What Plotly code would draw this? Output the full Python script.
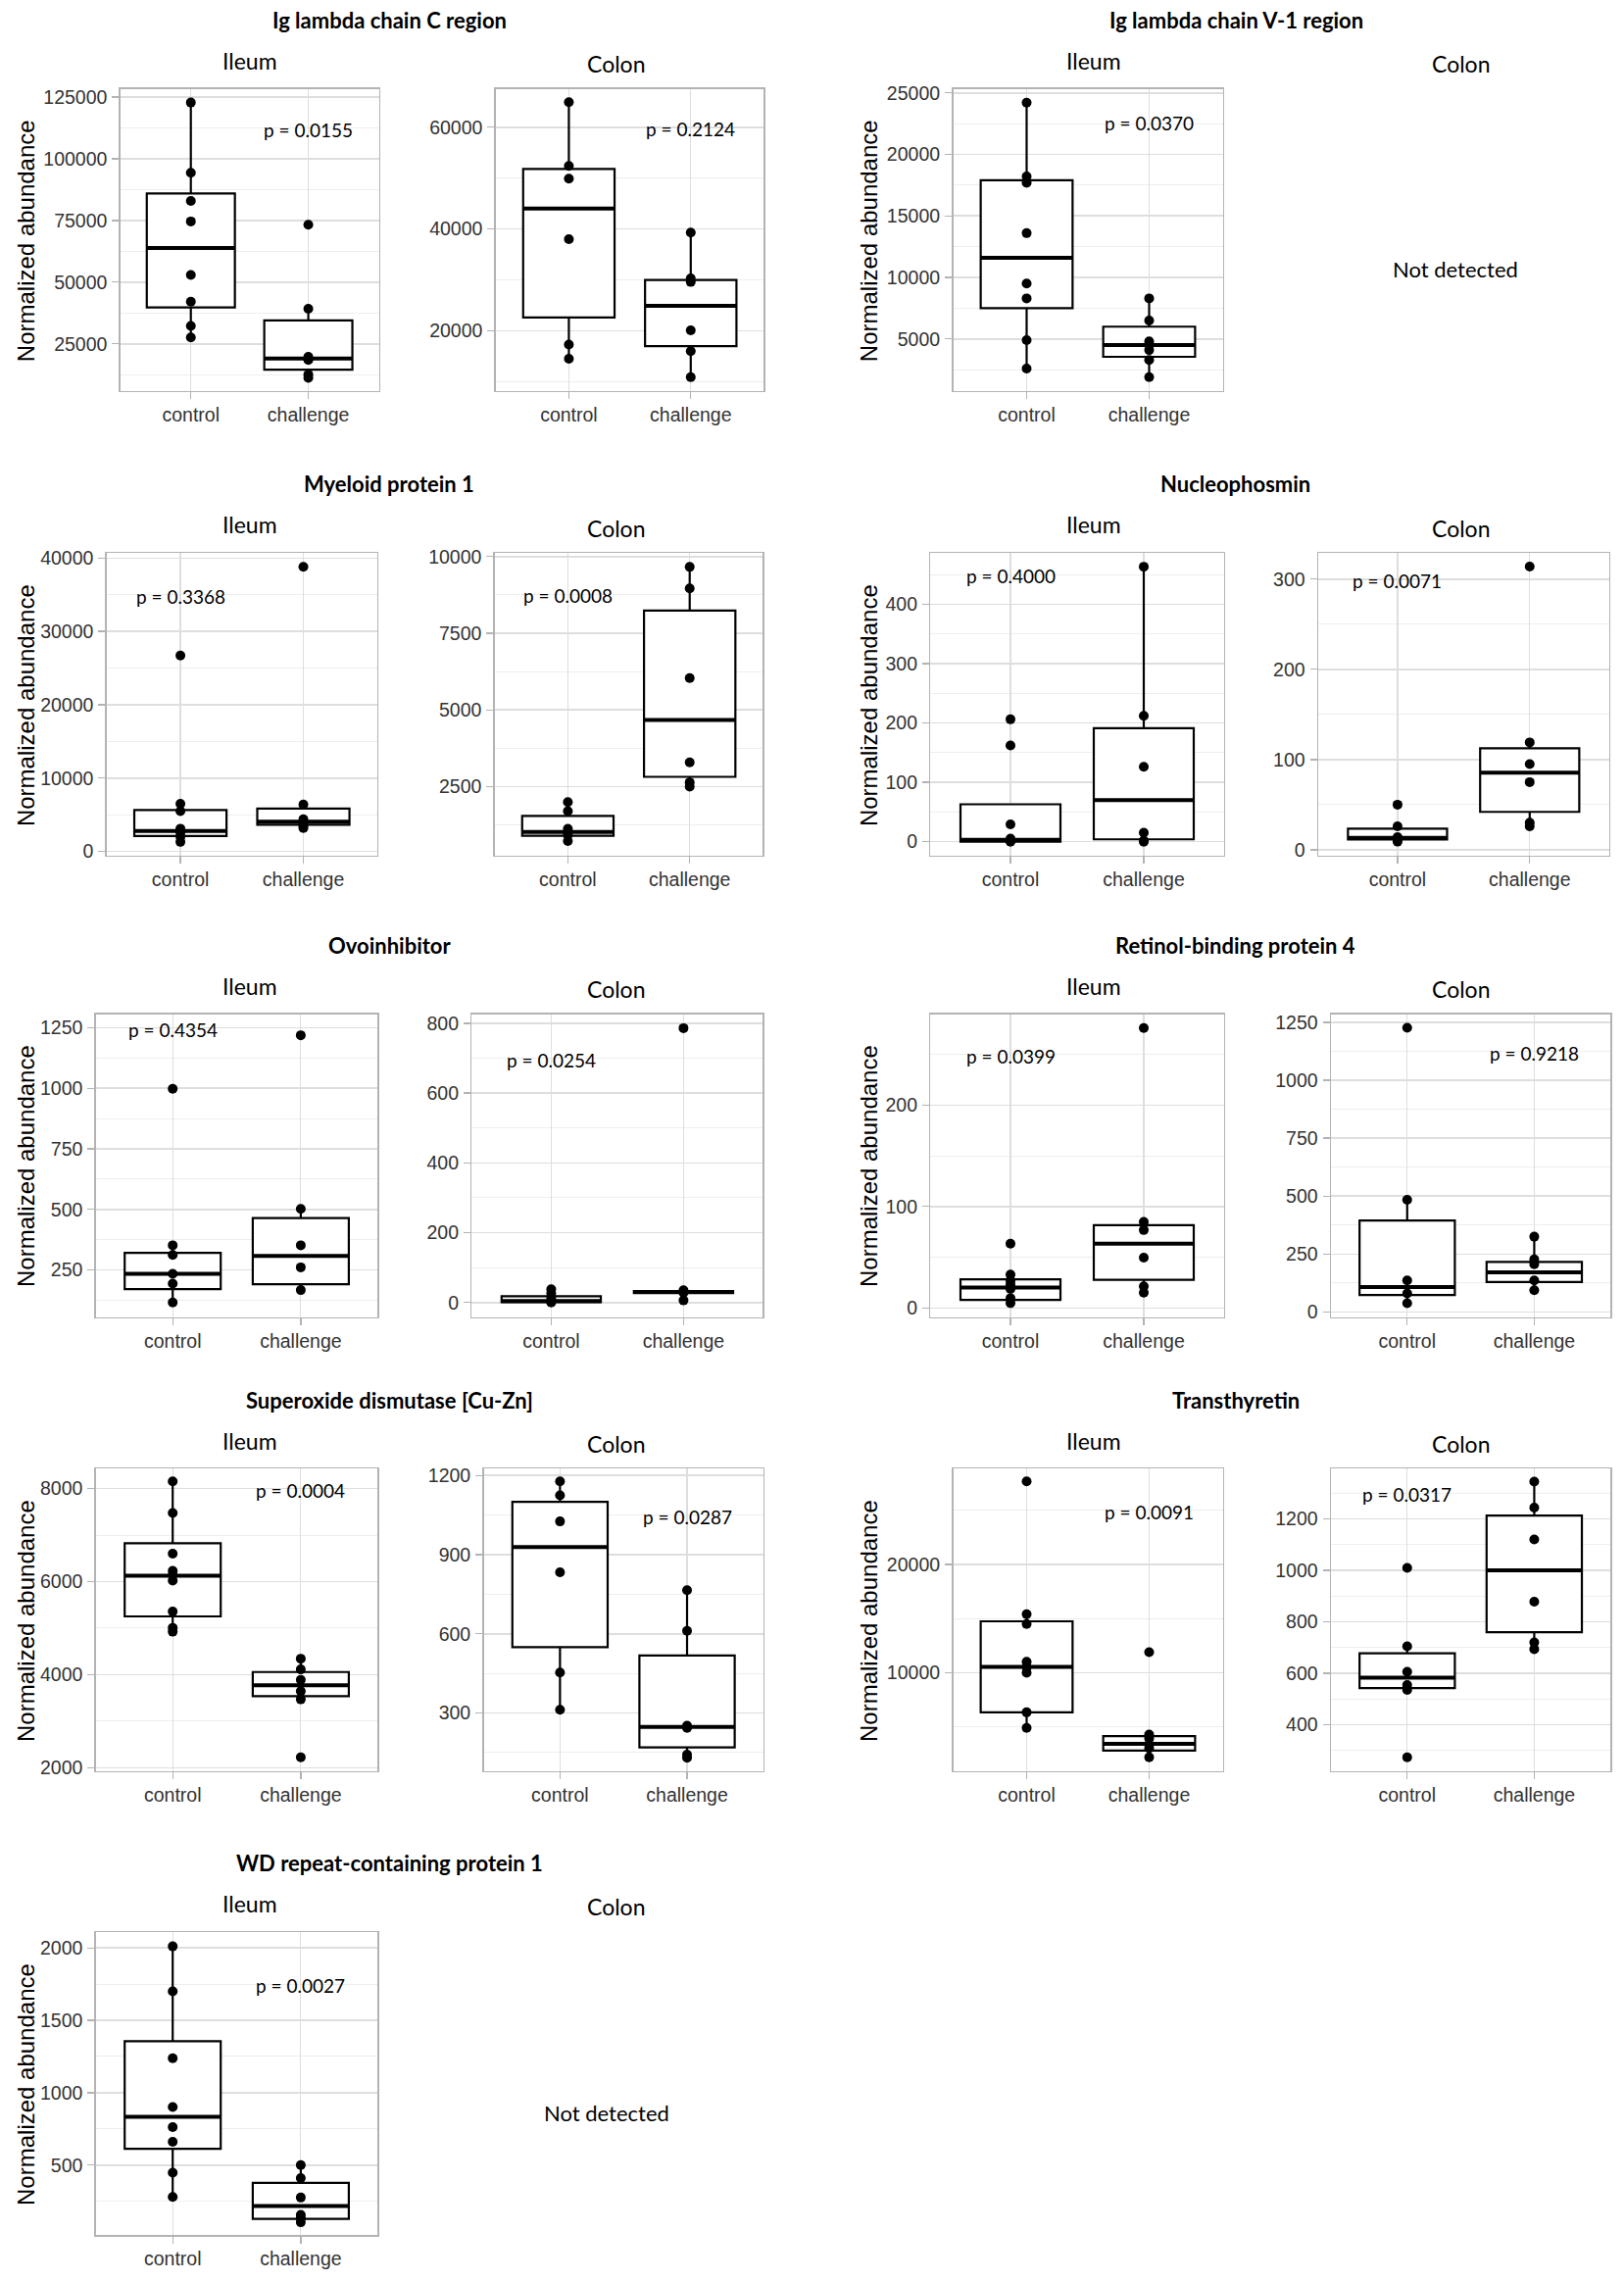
import plotly.graph_objects as go

W, H = 1657, 2327
CATEGORIES = ["control", "challenge"]

# ---------------- data ----------------
# box stats: [lower whisker, q1, median, q3, upper whisker]
igc_ileum_control = [122800, 94300, 82900, 74600, 52900, 42100, 32200, 27600]
igc_ileum_challenge = [73300, 39200, 19700, 18400, 12500, 11200]
igc_ileum_control_box = [27600, 39700, 63800, 85900, 122800]
igc_ileum_challenge_box = [11200, 14500, 19000, 34500, 39200]

igc_colon_control = [64900, 52400, 49900, 38000, 17300, 14500]
igc_colon_challenge = [39300, 30300, 29600, 20100, 16000, 10900]
igc_colon_control_box = [14500, 22600, 44000, 51800, 64900]
igc_colon_challenge_box = [10900, 17000, 24900, 30000, 39300]

igv_ileum_control = [24200, 18200, 17700, 13600, 9500, 8300, 4900, 2600]
igv_ileum_challenge = [8300, 6500, 4800, 4500, 4100, 3300, 1900]
igv_ileum_control_box = [2600, 7500, 11600, 17900, 24200]
igv_ileum_challenge_box = [1900, 3550, 4500, 6000, 8300]

myl_ileum_control = [26700, 6500, 5500, 3100, 2600, 2000, 1300]
myl_ileum_challenge = [38800, 6400, 4400, 4000, 3500, 3200]
myl_ileum_control_box = [1300, 2100, 2800, 5650, 6500]
myl_ileum_challenge_box = [3200, 3650, 4050, 5850, 6400]

myl_colon_control = [2000, 1700, 1130, 1020, 920, 730]
myl_colon_challenge = [9660, 8960, 6040, 3290, 2640, 2500]
myl_colon_control_box = [730, 900, 1020, 1550, 2000]
myl_colon_challenge_box = [2500, 2820, 4670, 8240, 9660]

npm_ileum_control = [206, 162, 29, 5, 1, 0]
npm_ileum_challenge = [463, 212, 126, 15, 2, 0]
npm_ileum_control_box = [0, 0, 3, 63, 63]
npm_ileum_challenge_box = [0, 4, 70, 191, 463]

npm_colon_control = [50, 26, 14, 11, 9]
npm_colon_challenge = [314, 119, 95, 75, 30, 26]
npm_colon_control_box = [9, 11.5, 13.3, 23.3, 26]
npm_colon_challenge_box = [26, 42, 85.5, 112.4, 119]

ovo_ileum_control = [998, 352, 312, 234, 194, 116]
ovo_ileum_challenge = [1219, 502, 352, 261, 167]
ovo_ileum_control_box = [116, 171, 234, 321, 352]
ovo_ileum_challenge_box = [167, 191, 308, 464, 502]

ovo_colon_control = [38, 26, 12, 2, 0]
ovo_colon_challenge = [786, 35, 31, 28, 6]
ovo_colon_control_box = [0, 1, 4, 18, 38]
ovo_colon_challenge_box = [27, 27, 30, 33, 35]

rbp_ileum_control = [63.4, 33, 27, 23, 18.6, 9.6, 4.8]
rbp_ileum_challenge = [276, 84.8, 76.8, 49.6, 21.4, 15]
rbp_ileum_control_box = [4.8, 8, 20.2, 28.2, 33]
rbp_ileum_challenge_box = [15, 27.8, 63.4, 81.6, 84.8]

rbp_colon_control = [1226, 484, 136, 80, 38]
rbp_colon_challenge = [325, 227, 206, 136, 94]
rbp_colon_control_box = [38, 73, 108, 395, 484]
rbp_colon_challenge_box = [94, 129, 171, 216, 325]

sod_ileum_control = [8154, 7476, 6601, 6231, 6140, 6021, 5357, 5007, 4923]
sod_ileum_challenge = [4343, 4112, 3888, 3643, 3469, 2224]
sod_ileum_control_box = [4923, 5252, 6126, 6825, 8154]
sod_ileum_challenge_box = [3469, 3538, 3769, 4056, 4343]

sod_colon_control = [1178, 1125, 1026, 833, 453, 312]
sod_colon_challenge = [765, 611, 251, 243, 142, 130]
sod_colon_control_box = [312, 549, 929, 1100, 1178]
sod_colon_challenge_box = [130, 169, 247, 518, 765]

ttr_ileum_control = [27660, 15400, 14500, 11000, 10500, 10000, 6340, 4900]
ttr_ileum_challenge = [11890, 4290, 3930, 3390, 3030, 2190]
ttr_ileum_control_box = [4900, 6340, 10540, 14745, 15400]
ttr_ileum_challenge_box = [2190, 2810, 3420, 4140, 4290]

ttr_colon_control = [1010, 705, 606, 555, 536, 274]
ttr_colon_challenge = [1345, 1244, 1120, 878, 720, 694]
ttr_colon_control_box = [536, 543, 583, 678, 705]
ttr_colon_challenge_box = [694, 760, 1000, 1213, 1345]

wdr_ileum_control = [2011, 1700, 1238, 901, 762, 661, 448, 280]
wdr_ileum_challenge = [500, 410, 276, 157, 134, 105]
wdr_ileum_control_box = [280, 612, 834, 1356, 2011]
wdr_ileum_challenge_box = [105, 128, 217, 377, 500]

PANEL_KEYS = ["igc_ileum", "igc_colon", "igv_ileum", "myl_ileum", "myl_colon",
              "npm_ileum", "npm_colon", "ovo_ileum", "ovo_colon", "rbp_ileum",
              "rbp_colon", "sod_ileum", "sod_colon", "ttr_ileum", "ttr_colon",
              "wdr_ileum"]
P_VALUES = [0.0155, 0.2124, 0.0370, 0.3368, 0.0008, 0.4000, 0.0071, 0.4354,
            0.0254, 0.0399, 0.9218, 0.0004, 0.0287, 0.0091, 0.0317, 0.0027]
# p-label anchor: (category index, value)
P_POS_X = [2, 2, 2, 1, 1, 1, 1, 1, 1, 1, 2, 2, 2, 2, 1, 2]
P_POS_Y = [111800, 59700, 22550, 34800, 8730, 447, 298, 1242, 693, 248.6,
           1117, 7958, 1042, 24865, 1295, 1738]

PROTEINS = ["Ig lambda chain C region", "Ig lambda chain V-1 region",
            "Myeloid protein 1", "Nucleophosmin", "Ovoinhibitor",
            "Retinol-binding protein 4", "Superoxide dismutase [Cu-Zn]",
            "Transthyretin", "WD repeat-containing protein 1"]

g = globals()
PANEL_DATA = {k: ((g[k + "_control"], g[k + "_control_box"]),
                  (g[k + "_challenge"], g[k + "_challenge_box"])) for k in PANEL_KEYS}

# ---------------- layout (pixel boxes L, R, T, B ; y range ; tick step) ----------------
PANEL_BOXES = [
    (122.8, 386.5, 83.3, 393.3), (505.8, 779.4, 83.3, 393.3), (972.5, 1247.5, 83.3, 393.3),
    (108.8, 384.8, 560, 870.5), (504.8, 778.3, 560, 870.5), (949.4, 1248.6, 560, 870.5), (1345, 1641.7, 560, 870.5),
    (97.8, 385.3, 1033.3, 1344.3), (481.4, 778.4, 1033.3, 1344.3), (949.4, 1248.6, 1033.3, 1344.3), (1358, 1643.2, 1033.3, 1344.3),
    (97.8, 385.3, 1499.7, 1810.3), (493.6, 778.8, 1499.7, 1810.3), (972.5, 1247.5, 1499.7, 1810.3), (1358, 1643.2, 1499.7, 1810.3),
    (97.8, 385.3, 1976, 2287),
]
Y_RANGES = [(5900, 128300), (8200, 67500), (780, 25320), (-575, 40660), (253, 10106),
            (-23.5, 485.7), (-6.5, 328.7), (55.6, 1306), (-41.8, 826), (-9, 289.6),
            (-22, 1285), (1930, 8434), (80, 1227), (931, 28859), (221, 1396), (16, 2108)]
Y_DTICK = [25000, 20000, 5000, 10000, 2500, 100, 100, 250, 200, 100, 250, 2000, 300, 10000, 200, 500]

TITLE_POS = [(397, 13), (1261, 13), (397, 489), (1260, 489), (397, 962.5), (1260, 962.5),
             (397, 1429.5), (1261, 1429.5), (397, 1905)]
ROW_LABEL_Y = [(54, 57.3), (530.7, 534), (1004, 1007.3), (1471, 1474.3), (1946.7, 1950)]
LEFT_GROUP_X = (255, 628)
RIGHT_GROUP_X = (1116, 1490.5)
YTITLE_POS = [(26.7, 239), (886.7, 239), (26.7, 716), (886.7, 716), (26.7, 1189), (886.7, 1189),
              (26.7, 1656), (886.7, 1656), (26.7, 2132)]
NOT_DETECTED_POS = [(1484.5, 268.3), (619, 2161)]

CAL = "Lato, Carlito, sans-serif"
ARIAL = "Liberation Sans, Arial, sans-serif"
BOX_W = 0.75
TICK_FONT = dict(family=ARIAL, size=19.5, color="#333333")

fig = go.Figure()
annotations = []

for i, key in enumerate(PANEL_KEYS, start=1):
    sfx = "" if i == 1 else str(i)
    xa, ya = "x" + sfx, "y" + sfx
    for j, (pts, stats) in enumerate(PANEL_DATA[key]):
        xpos = j + 1
        lf, q1, med, q3, uf = stats
        fig.add_trace(go.Box(x=[xpos], lowerfence=[lf], q1=[q1], median=[med], q3=[q3],
                             upperfence=[uf], width=BOX_W, whiskerwidth=0,
                             fillcolor="white", line=dict(color="black", width=2.2),
                             boxpoints=False, xaxis=xa, yaxis=ya, showlegend=False,
                             hoverinfo="skip"))
        fig.add_trace(go.Scatter(x=[xpos - BOX_W / 2, xpos + BOX_W / 2], y=[med, med],
                                 mode="lines", line=dict(color="black", width=4),
                                 xaxis=xa, yaxis=ya, showlegend=False, hoverinfo="skip"))
        fig.add_trace(go.Scatter(x=[xpos] * len(pts), y=pts, mode="markers",
                                 marker=dict(color="black", size=10),
                                 xaxis=xa, yaxis=ya, showlegend=False, hoverinfo="skip"))
    L, R, T, B = PANEL_BOXES[i - 1]
    dt = Y_DTICK[i - 1]
    fig.update_layout(**{
        "xaxis" + sfx: dict(domain=[L / W, R / W], anchor=ya, range=[0.4, 2.6],
                            tickmode="array", tickvals=[1, 2], ticktext=CATEGORIES,
                            showgrid=True, gridcolor="#dedede", gridwidth=1.2,
                            zeroline=False, showline=True, mirror=True,
                            linecolor="#b3b3b3", linewidth=1.5, ticks="outside",
                            ticklen=7, tickwidth=1.3, tickcolor="#b3b3b3",
                            ticklabelstandoff=-1, tickfont=TICK_FONT),
        "yaxis" + sfx: dict(domain=[1 - B / H, 1 - T / H], anchor=xa,
                            range=list(Y_RANGES[i - 1]), tickmode="linear", tick0=0, dtick=dt,
                            tickformat="d", showgrid=True, gridcolor="#dedede", gridwidth=1.6,
                            minor=dict(tick0=0, dtick=dt / 2, showgrid=True,
                                       gridcolor="#eeeeee", gridwidth=1),
                            zeroline=False, showline=True, mirror=True,
                            linecolor="#b3b3b3", linewidth=1.5, ticks="outside",
                            ticklen=7, tickwidth=1.3, tickcolor="#b3b3b3",
                            ticklabelstandoff=1, tickfont=TICK_FONT),
    })
    annotations.append(dict(x=P_POS_X[i - 1], y=P_POS_Y[i - 1], xref=xa, yref=ya,
                            text="p = %.4f" % P_VALUES[i - 1], showarrow=False,
                            font=dict(family=CAL, size=19, color="black"),
                            xanchor="center", yanchor="middle"))


def pap(px, py):
    return px / W, 1 - py / H


for name, (tx, ty) in zip(PROTEINS, TITLE_POS):
    x, y = pap(tx, ty)
    annotations.append(dict(x=x, y=y, xref="paper", yref="paper", text="<b>%s</b>" % name,
                            showarrow=False, font=dict(family=CAL, size=22, color="black"),
                            xanchor="center", yanchor="middle"))

for r, (yi, yc) in enumerate(ROW_LABEL_Y):
    groups = [LEFT_GROUP_X] if r == 4 else [LEFT_GROUP_X, RIGHT_GROUP_X]
    for gx in groups:
        for lab, lx, ly in (("Ileum", gx[0], yi), ("Colon", gx[1], yc)):
            x, y = pap(lx, ly)
            annotations.append(dict(x=x, y=y, xref="paper", yref="paper", text=lab,
                                    showarrow=False, font=dict(family=CAL, size=23, color="black"),
                                    xanchor="center", yanchor="middle"))

for tx, ty in YTITLE_POS:
    x, y = pap(tx, ty)
    annotations.append(dict(x=x, y=y, xref="paper", yref="paper", text="Normalized abundance",
                            textangle=-90, showarrow=False,
                            font=dict(family=ARIAL, size=24, color="black"),
                            xanchor="center", yanchor="middle"))

for tx, ty in NOT_DETECTED_POS:
    x, y = pap(tx, ty)
    annotations.append(dict(x=x, y=y, xref="paper", yref="paper", text="Not detected",
                            showarrow=False, font=dict(family=CAL, size=22, color="black"),
                            xanchor="center", yanchor="middle"))

fig.update_layout(width=W, height=H, margin=dict(l=0, r=0, t=0, b=0),
                  paper_bgcolor="white", plot_bgcolor="white",
                  showlegend=False, annotations=annotations, boxmode="overlay")

fig.write_html("out.html", config={"displayModeBar": False, "staticPlot": True},
               post_script="document.body.style.margin='0px';document.body.style.overflow='hidden';")
